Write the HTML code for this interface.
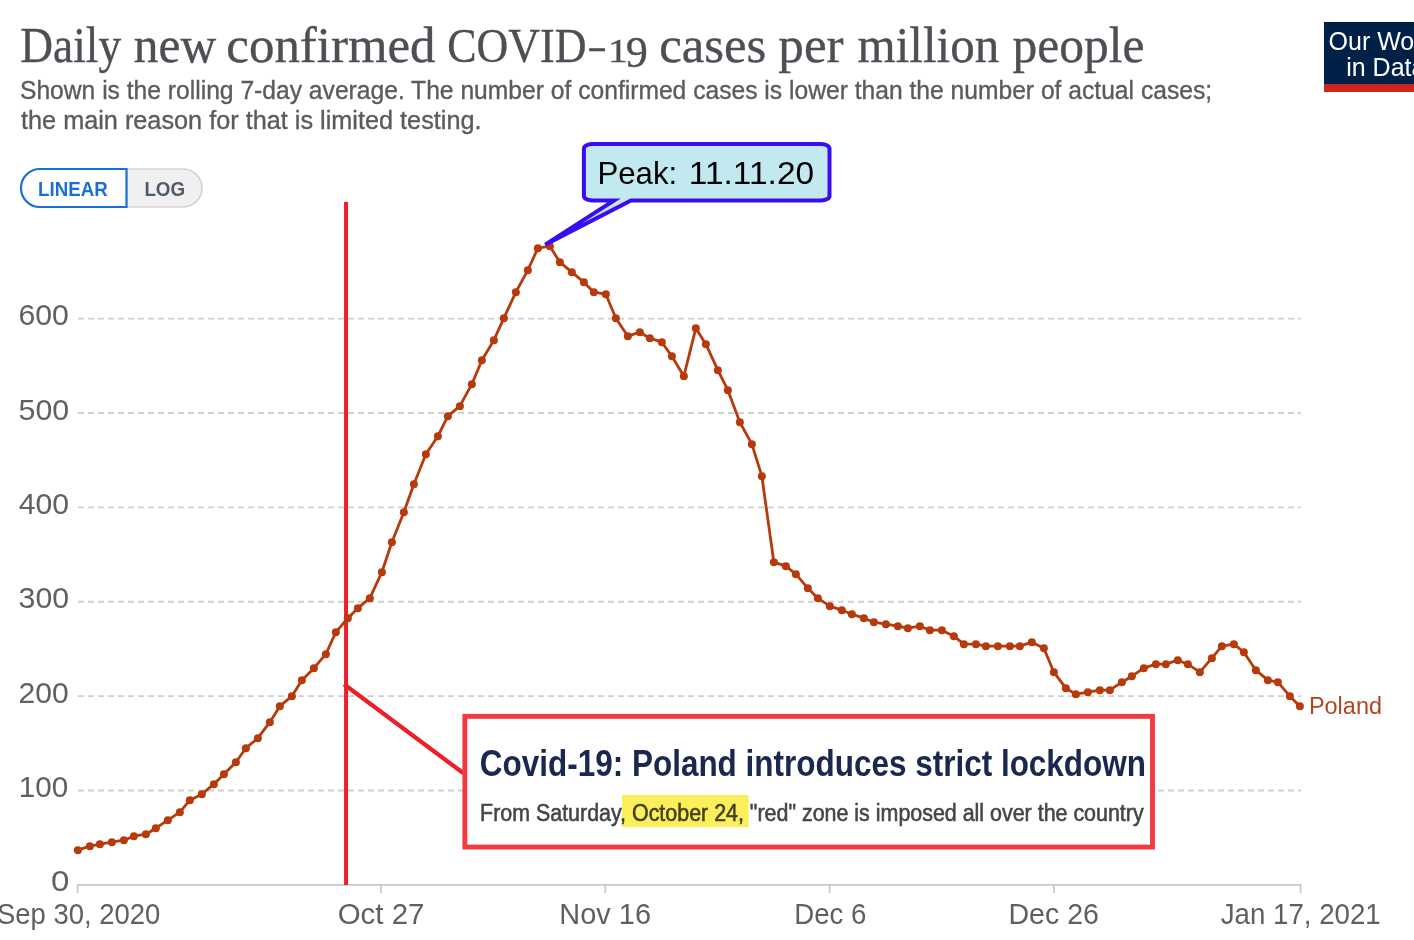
<!DOCTYPE html>
<html><head><meta charset="utf-8"><title>Daily new confirmed COVID-19 cases per million people</title><style>
html,body{margin:0;padding:0;background:#fff;width:1414px;height:940px;overflow:hidden}
svg{display:block}
</style></head><body>
<svg width="1414" height="940" viewBox="0 0 1414 940">
<rect width="1414" height="940" fill="#fff"/>
<text x="20.33" y="61.6" style="font-family:'Liberation Serif',serif;stroke:#4d4f55;stroke-width:0.35" font-size="50" font-weight="normal" fill="#4d4f55" textLength="100.84" lengthAdjust="spacingAndGlyphs">Daily</text>
<text x="133.75" y="61.6" style="font-family:'Liberation Serif',serif;stroke:#4d4f55;stroke-width:0.35" font-size="50" font-weight="normal" fill="#4d4f55" textLength="82.41" lengthAdjust="spacingAndGlyphs">new</text>
<text x="226.36" y="61.6" style="font-family:'Liberation Serif',serif;stroke:#4d4f55;stroke-width:0.35" font-size="50" font-weight="normal" fill="#4d4f55" textLength="209.14" lengthAdjust="spacingAndGlyphs">confirmed</text>
<text x="447.24" y="61.8" style="font-family:'Liberation Serif',serif;stroke:#4d4f55;stroke-width:0.35" font-size="48" font-weight="normal" fill="#4d4f55" textLength="139.16" lengthAdjust="spacingAndGlyphs">COVID</text>
<text x="589.60" y="61.6" style="font-family:'Liberation Serif',serif;stroke:#4d4f55;stroke-width:0.35" font-size="50" font-weight="normal" fill="#4d4f55" textLength="15.23" lengthAdjust="spacingAndGlyphs">–</text>
<text x="607.94" y="61.8" style="font-family:'Liberation Serif',serif;stroke:#4d4f55;stroke-width:0.35" font-size="34" font-weight="normal" fill="#4d4f55" textLength="19.72" lengthAdjust="spacingAndGlyphs">1</text>
<text x="625.84" y="67.4" style="font-family:'Liberation Serif',serif;stroke:#4d4f55;stroke-width:0.35" font-size="44" font-weight="normal" fill="#4d4f55" textLength="22.10" lengthAdjust="spacingAndGlyphs">9</text>
<text x="659.15" y="61.6" style="font-family:'Liberation Serif',serif;stroke:#4d4f55;stroke-width:0.35" font-size="50" font-weight="normal" fill="#4d4f55" textLength="107.10" lengthAdjust="spacingAndGlyphs">cases</text>
<text x="778.36" y="61.6" style="font-family:'Liberation Serif',serif;stroke:#4d4f55;stroke-width:0.35" font-size="50" font-weight="normal" fill="#4d4f55" textLength="65.26" lengthAdjust="spacingAndGlyphs">per</text>
<text x="857.59" y="61.6" style="font-family:'Liberation Serif',serif;stroke:#4d4f55;stroke-width:0.35" font-size="50" font-weight="normal" fill="#4d4f55" textLength="141.69" lengthAdjust="spacingAndGlyphs">million</text>
<text x="1012.59" y="61.6" style="font-family:'Liberation Serif',serif;stroke:#4d4f55;stroke-width:0.35" font-size="50" font-weight="normal" fill="#4d4f55" textLength="131.87" lengthAdjust="spacingAndGlyphs">people</text>
<text x="19.97" y="98.8" style="font-family:'Liberation Sans',sans-serif;stroke:#5b5b5b;stroke-width:0.35" font-size="25.5" font-weight="normal" fill="#5b5b5b" textLength="1192.11" lengthAdjust="spacingAndGlyphs">Shown is the rolling 7-day average. The number of confirmed cases is lower than the number of actual cases;</text>
<text x="21.00" y="128.8" style="font-family:'Liberation Sans',sans-serif;stroke:#5b5b5b;stroke-width:0.35" font-size="25.5" font-weight="normal" fill="#5b5b5b" textLength="460.53" lengthAdjust="spacingAndGlyphs">the main reason for that is limited testing.</text>
<rect x="1324" y="22" width="90" height="62" fill="#002147"/>
<rect x="1324" y="84" width="90" height="8" fill="#ce261e"/>
<text x="1328.60" y="49.7" style="font-family:'Liberation Sans',sans-serif;" font-size="25" font-weight="normal" fill="#fff">Our World</text>
<text x="1346.20" y="76.0" style="font-family:'Liberation Sans',sans-serif;" font-size="25" font-weight="normal" fill="#fff">in Data</text>
<path d="M126.5,169 H183 A19,19 0 0 1 183,207 H126.5 Z" fill="#f0f0f0" stroke="#d3d3d3" stroke-width="1.6"/>
<path d="M126.5,169 H40 A19,19 0 0 0 40,207 H126.5 Z" fill="#fff" stroke="#1a6ed8" stroke-width="2.2"/>
<text x="38.07" y="195.6" style="font-family:'Liberation Sans',sans-serif;" font-size="20" font-weight="bold" fill="#1a6ed8" textLength="69.60" lengthAdjust="spacingAndGlyphs">LINEAR</text>
<text x="144.38" y="195.6" style="font-family:'Liberation Sans',sans-serif;" font-size="20" font-weight="bold" fill="#4f5b6b" textLength="40.67" lengthAdjust="spacingAndGlyphs">LOG</text>
<g stroke="#d0d0d0" stroke-width="1.8" stroke-dasharray="6,4"><line x1="78" y1="790.52" x2="1301" y2="790.52"/><line x1="78" y1="696.13" x2="1301" y2="696.13"/><line x1="78" y1="601.75" x2="1301" y2="601.75"/><line x1="78" y1="507.37" x2="1301" y2="507.37"/><line x1="78" y1="412.98" x2="1301" y2="412.98"/><line x1="78" y1="318.60" x2="1301" y2="318.60"/></g>
<text x="51.07" y="891.4" style="font-family:'Liberation Sans',sans-serif;" font-size="30" font-weight="normal" fill="#606060" textLength="18.36" lengthAdjust="spacingAndGlyphs">0</text>
<text x="18.78" y="797.0" style="font-family:'Liberation Sans',sans-serif;" font-size="30" font-weight="normal" fill="#606060" textLength="49.39" lengthAdjust="spacingAndGlyphs">100</text>
<text x="18.56" y="702.6" style="font-family:'Liberation Sans',sans-serif;" font-size="30" font-weight="normal" fill="#606060" textLength="50.14" lengthAdjust="spacingAndGlyphs">200</text>
<text x="18.59" y="608.2" style="font-family:'Liberation Sans',sans-serif;" font-size="30" font-weight="normal" fill="#606060" textLength="50.50" lengthAdjust="spacingAndGlyphs">300</text>
<text x="18.73" y="513.9" style="font-family:'Liberation Sans',sans-serif;" font-size="30" font-weight="normal" fill="#606060" textLength="50.29" lengthAdjust="spacingAndGlyphs">400</text>
<text x="18.60" y="419.5" style="font-family:'Liberation Sans',sans-serif;" font-size="30" font-weight="normal" fill="#606060" textLength="50.50" lengthAdjust="spacingAndGlyphs">500</text>
<text x="18.47" y="325.4" style="font-family:'Liberation Sans',sans-serif;" font-size="30" font-weight="normal" fill="#606060" textLength="50.39" lengthAdjust="spacingAndGlyphs">600</text>
<g stroke="#c9c9c9" stroke-width="1.8"><line x1="77" y1="884.9" x2="1301.5" y2="884.9"/><line x1="77.60" y1="885" x2="77.60" y2="893"/><line x1="381.00" y1="885" x2="381.00" y2="893"/><line x1="605.29" y1="885" x2="605.29" y2="893"/><line x1="829.58" y1="885" x2="829.58" y2="893"/><line x1="1053.88" y1="885" x2="1053.88" y2="893"/><line x1="1300.60" y1="885" x2="1300.60" y2="893"/></g>
<text x="-2.98" y="923.5" style="font-family:'Liberation Sans',sans-serif;" font-size="30" font-weight="normal" fill="#606060" textLength="163.27" lengthAdjust="spacingAndGlyphs">Sep 30, 2020</text>
<text x="337.76" y="923.5" style="font-family:'Liberation Sans',sans-serif;" font-size="30" font-weight="normal" fill="#606060" textLength="86.61" lengthAdjust="spacingAndGlyphs">Oct 27</text>
<text x="559.33" y="923.5" style="font-family:'Liberation Sans',sans-serif;" font-size="30" font-weight="normal" fill="#606060" textLength="91.66" lengthAdjust="spacingAndGlyphs">Nov 16</text>
<text x="794.23" y="923.5" style="font-family:'Liberation Sans',sans-serif;" font-size="30" font-weight="normal" fill="#606060" textLength="72.11" lengthAdjust="spacingAndGlyphs">Dec 6</text>
<text x="1008.52" y="923.5" style="font-family:'Liberation Sans',sans-serif;" font-size="30" font-weight="normal" fill="#606060" textLength="90.35" lengthAdjust="spacingAndGlyphs">Dec 26</text>
<text x="1220.79" y="923.5" style="font-family:'Liberation Sans',sans-serif;" font-size="30" font-weight="normal" fill="#606060" textLength="159.94" lengthAdjust="spacingAndGlyphs">Jan 17, 2021</text>
<line x1="346.05" y1="202" x2="346.05" y2="885" stroke="#ee1f26" stroke-width="4"/>
<line x1="344" y1="684.3" x2="463.5" y2="773.3" stroke="#ee1f26" stroke-width="4.2"/>
<path d="M77.85,850.20 L89.85,846.20 L99.85,844.20 L111.85,842.20 L123.85,840.20 L133.85,836.20 L145.85,834.20 L155.85,828.20 L167.85,820.20 L179.85,812.20 L189.85,800.20 L201.85,794.20 L213.85,784.20 L223.85,774.20 L235.85,762.20 L245.85,748.20 L257.85,738.20 L269.85,722.20 L279.85,706.20 L291.85,696.20 L301.85,680.20 L313.85,668.20 L325.85,654.20 L335.85,632.20 L347.85,618.20 L357.85,608.20 L369.85,598.20 L381.85,572.20 L391.85,542.20 L403.85,512.20 L413.85,484.20 L425.85,454.20 L437.85,436.20 L447.85,416.20 L459.85,406.20 L471.85,384.20 L481.85,360.20 L493.85,340.20 L503.85,318.20 L515.85,292.20 L527.85,270.20 L537.85,248.20 L549.85,246.20 L559.85,262.20 L571.85,272.20 L583.85,282.20 L593.85,292.20 L605.85,294.20 L615.85,318.20 L627.85,336.20 L639.85,332.20 L649.85,338.20 L661.85,342.20 L671.85,356.20 L683.85,376.20 L695.85,328.20 L705.85,344.20 L717.85,370.20 L727.85,390.20 L739.85,422.20 L751.85,444.20 L761.85,476.20 L773.85,562.20 L785.85,566.20 L795.85,574.20 L807.85,588.20 L817.85,598.20 L829.85,606.20 L841.85,610.20 L851.85,614.20 L863.85,618.20 L873.85,622.20 L885.85,624.20 L897.85,626.20 L907.85,628.20 L919.85,626.20 L929.85,630.20 L941.85,630.20 L953.85,636.20 L963.85,644.20 L975.85,644.20 L985.85,646.20 L997.85,646.20 L1009.85,646.20 L1019.85,646.20 L1031.85,642.20 L1043.85,648.20 L1053.85,672.20 L1065.85,688.20 L1075.85,694.20 L1087.85,692.20 L1099.85,690.20 L1109.85,690.20 L1121.85,682.20 L1131.85,676.20 L1143.85,668.20 L1155.85,664.20 L1165.85,664.20 L1177.85,660.20 L1187.85,664.20 L1199.85,672.20 L1211.85,658.20 L1221.85,646.20 L1233.85,644.20 L1243.85,652.20 L1255.85,670.20 L1267.85,680.20 L1277.85,682.20 L1289.85,696.20 L1299.85,706.20" fill="none" stroke="#b73a0c" stroke-width="2.8" stroke-linejoin="round"/>
<g fill="#b73a0c"><circle cx="77.85" cy="850.20" r="4.0"/><circle cx="89.85" cy="846.20" r="4.0"/><circle cx="99.85" cy="844.20" r="4.0"/><circle cx="111.85" cy="842.20" r="4.0"/><circle cx="123.85" cy="840.20" r="4.0"/><circle cx="133.85" cy="836.20" r="4.0"/><circle cx="145.85" cy="834.20" r="4.0"/><circle cx="155.85" cy="828.20" r="4.0"/><circle cx="167.85" cy="820.20" r="4.0"/><circle cx="179.85" cy="812.20" r="4.0"/><circle cx="189.85" cy="800.20" r="4.0"/><circle cx="201.85" cy="794.20" r="4.0"/><circle cx="213.85" cy="784.20" r="4.0"/><circle cx="223.85" cy="774.20" r="4.0"/><circle cx="235.85" cy="762.20" r="4.0"/><circle cx="245.85" cy="748.20" r="4.0"/><circle cx="257.85" cy="738.20" r="4.0"/><circle cx="269.85" cy="722.20" r="4.0"/><circle cx="279.85" cy="706.20" r="4.0"/><circle cx="291.85" cy="696.20" r="4.0"/><circle cx="301.85" cy="680.20" r="4.0"/><circle cx="313.85" cy="668.20" r="4.0"/><circle cx="325.85" cy="654.20" r="4.0"/><circle cx="335.85" cy="632.20" r="4.0"/><circle cx="347.85" cy="618.20" r="4.0"/><circle cx="357.85" cy="608.20" r="4.0"/><circle cx="369.85" cy="598.20" r="4.0"/><circle cx="381.85" cy="572.20" r="4.0"/><circle cx="391.85" cy="542.20" r="4.0"/><circle cx="403.85" cy="512.20" r="4.0"/><circle cx="413.85" cy="484.20" r="4.0"/><circle cx="425.85" cy="454.20" r="4.0"/><circle cx="437.85" cy="436.20" r="4.0"/><circle cx="447.85" cy="416.20" r="4.0"/><circle cx="459.85" cy="406.20" r="4.0"/><circle cx="471.85" cy="384.20" r="4.0"/><circle cx="481.85" cy="360.20" r="4.0"/><circle cx="493.85" cy="340.20" r="4.0"/><circle cx="503.85" cy="318.20" r="4.0"/><circle cx="515.85" cy="292.20" r="4.0"/><circle cx="527.85" cy="270.20" r="4.0"/><circle cx="537.85" cy="248.20" r="4.0"/><circle cx="549.85" cy="246.20" r="4.0"/><circle cx="559.85" cy="262.20" r="4.0"/><circle cx="571.85" cy="272.20" r="4.0"/><circle cx="583.85" cy="282.20" r="4.0"/><circle cx="593.85" cy="292.20" r="4.0"/><circle cx="605.85" cy="294.20" r="4.0"/><circle cx="615.85" cy="318.20" r="4.0"/><circle cx="627.85" cy="336.20" r="4.0"/><circle cx="639.85" cy="332.20" r="4.0"/><circle cx="649.85" cy="338.20" r="4.0"/><circle cx="661.85" cy="342.20" r="4.0"/><circle cx="671.85" cy="356.20" r="4.0"/><circle cx="683.85" cy="376.20" r="4.0"/><circle cx="695.85" cy="328.20" r="4.0"/><circle cx="705.85" cy="344.20" r="4.0"/><circle cx="717.85" cy="370.20" r="4.0"/><circle cx="727.85" cy="390.20" r="4.0"/><circle cx="739.85" cy="422.20" r="4.0"/><circle cx="751.85" cy="444.20" r="4.0"/><circle cx="761.85" cy="476.20" r="4.0"/><circle cx="773.85" cy="562.20" r="4.0"/><circle cx="785.85" cy="566.20" r="4.0"/><circle cx="795.85" cy="574.20" r="4.0"/><circle cx="807.85" cy="588.20" r="4.0"/><circle cx="817.85" cy="598.20" r="4.0"/><circle cx="829.85" cy="606.20" r="4.0"/><circle cx="841.85" cy="610.20" r="4.0"/><circle cx="851.85" cy="614.20" r="4.0"/><circle cx="863.85" cy="618.20" r="4.0"/><circle cx="873.85" cy="622.20" r="4.0"/><circle cx="885.85" cy="624.20" r="4.0"/><circle cx="897.85" cy="626.20" r="4.0"/><circle cx="907.85" cy="628.20" r="4.0"/><circle cx="919.85" cy="626.20" r="4.0"/><circle cx="929.85" cy="630.20" r="4.0"/><circle cx="941.85" cy="630.20" r="4.0"/><circle cx="953.85" cy="636.20" r="4.0"/><circle cx="963.85" cy="644.20" r="4.0"/><circle cx="975.85" cy="644.20" r="4.0"/><circle cx="985.85" cy="646.20" r="4.0"/><circle cx="997.85" cy="646.20" r="4.0"/><circle cx="1009.85" cy="646.20" r="4.0"/><circle cx="1019.85" cy="646.20" r="4.0"/><circle cx="1031.85" cy="642.20" r="4.0"/><circle cx="1043.85" cy="648.20" r="4.0"/><circle cx="1053.85" cy="672.20" r="4.0"/><circle cx="1065.85" cy="688.20" r="4.0"/><circle cx="1075.85" cy="694.20" r="4.0"/><circle cx="1087.85" cy="692.20" r="4.0"/><circle cx="1099.85" cy="690.20" r="4.0"/><circle cx="1109.85" cy="690.20" r="4.0"/><circle cx="1121.85" cy="682.20" r="4.0"/><circle cx="1131.85" cy="676.20" r="4.0"/><circle cx="1143.85" cy="668.20" r="4.0"/><circle cx="1155.85" cy="664.20" r="4.0"/><circle cx="1165.85" cy="664.20" r="4.0"/><circle cx="1177.85" cy="660.20" r="4.0"/><circle cx="1187.85" cy="664.20" r="4.0"/><circle cx="1199.85" cy="672.20" r="4.0"/><circle cx="1211.85" cy="658.20" r="4.0"/><circle cx="1221.85" cy="646.20" r="4.0"/><circle cx="1233.85" cy="644.20" r="4.0"/><circle cx="1243.85" cy="652.20" r="4.0"/><circle cx="1255.85" cy="670.20" r="4.0"/><circle cx="1267.85" cy="680.20" r="4.0"/><circle cx="1277.85" cy="682.20" r="4.0"/><circle cx="1289.85" cy="696.20" r="4.0"/><circle cx="1299.85" cy="706.20" r="4.0"/></g>
<text x="1308.90" y="713.6" style="font-family:'Liberation Sans',sans-serif;" font-size="23" font-weight="normal" fill="#b0451e" textLength="73.11" lengthAdjust="spacingAndGlyphs">Poland</text>
<rect x="464.85" y="716.35" width="687.65" height="130.7" fill="#fff" stroke="#f03c40" stroke-width="4.9"/>
<text x="479.82" y="776.0" style="font-family:'Liberation Sans',sans-serif;" font-size="37" font-weight="bold" fill="#1a2850" textLength="666.20" lengthAdjust="spacingAndGlyphs">Covid-19: Poland introduces strict lockdown</text>
<text x="480.05" y="820.5" style="font-family:'Liberation Sans',sans-serif;stroke:#454545;stroke-width:0.55" font-size="23" font-weight="normal" fill="#454545" textLength="663.60" lengthAdjust="spacingAndGlyphs">From Saturday, October 24, &quot;red&quot; zone is imposed all over the country</text>
<rect x="622" y="795" width="126.5" height="32.1" fill="#fbef5c" style="mix-blend-mode:multiply"/>
<path d="M591.9,144.1 H821.5 A8,4.5 0 0 1 829.5,148.6 V195.9 A8,4.5 0 0 1 821.5,200.4 H631 L545.2,244.6 L614,200.4 H591.9 A8,4.5 0 0 1 583.9,195.9 V148.6 A8,4.5 0 0 1 591.9,144.1 Z" fill="#c2e9ef" stroke="#3a0cf0" stroke-width="4"/>
<text x="597.44" y="183.7" style="font-family:'Liberation Sans',sans-serif;" font-size="32" font-weight="normal" fill="#000" textLength="79.74" lengthAdjust="spacingAndGlyphs">Peak:</text>
<text x="688.80" y="183.7" style="font-family:'Liberation Sans',sans-serif;" font-size="32" font-weight="normal" fill="#000" textLength="125.36" lengthAdjust="spacingAndGlyphs">11.11.20</text>
</svg>
</body></html>
